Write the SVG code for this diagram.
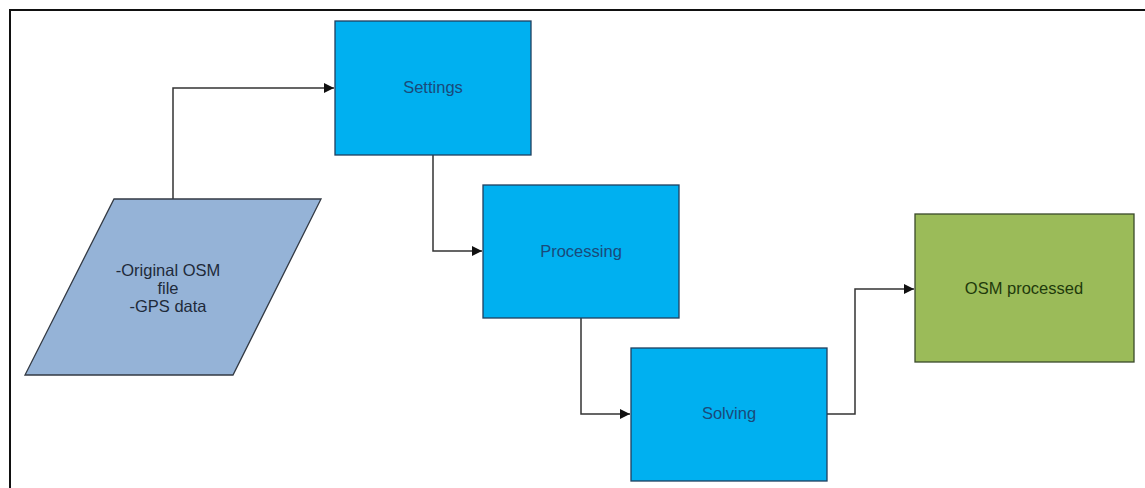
<svg xmlns="http://www.w3.org/2000/svg" width="1145" height="488" viewBox="0 0 1145 488">
  <defs>
    <style>
      .frame { fill: #ffffff; stroke: #111111; stroke-width: 2; }
      .step { fill: #00b0f0; stroke: #1f3f5f; stroke-width: 1.3; }
      .input { fill: #95b3d7; stroke: #333a44; stroke-width: 1.3; }
      .result { fill: #9bbb59; stroke: #3a4a2a; stroke-width: 1.3; }
      .label { font-family: "Liberation Sans", Arial, sans-serif; font-size: 16.5px; text-anchor: middle; }
      .step-text { fill: #1a4a7a; }
      .input-text { fill: #1e2a3a; }
      .result-text { fill: #1f3a0c; }
      .link { fill: none; stroke: #333333; stroke-width: 1.5; }
    </style>
    <marker id="arrow" viewBox="0 0 10 10" refX="10" refY="5" markerWidth="10" markerHeight="10" markerUnits="userSpaceOnUse" orient="auto">
      <path d="M0,0 L10,5 L0,10 z" fill="#111111"/>
    </marker>
  </defs>

  <!-- outer frame -->
  <rect class="frame" x="10" y="10" width="1145" height="488"/>

  <g id="connectors">
    <polyline class="link" points="173,199 173,88 334,88" marker-end="url(#arrow)"/>
    <polyline class="link" points="433,155 433,251 482,251" marker-end="url(#arrow)"/>
    <polyline class="link" points="581,318 581,414 630,414" marker-end="url(#arrow)"/>
    <polyline class="link" points="827,414 855,414 855,289 914,289" marker-end="url(#arrow)"/>
  </g>

  <g id="input-data">
    <polygon class="input" points="114,199 321,199 233,375 25,375"/>
    <text class="label input-text" x="168" y="276">-Original OSM</text>
    <text class="label input-text" x="168" y="294">file</text>
    <text class="label input-text" x="168" y="312">-GPS data</text>
  </g>

  <g id="settings">
    <rect class="step" x="335" y="21" width="196" height="134"/>
    <text class="label step-text" x="433" y="93">Settings</text>
  </g>

  <g id="processing">
    <rect class="step" x="483" y="185" width="196" height="133"/>
    <text class="label step-text" x="581" y="257">Processing</text>
  </g>

  <g id="solving">
    <rect class="step" x="631" y="348" width="196" height="133"/>
    <text class="label step-text" x="729" y="419">Solving</text>
  </g>

  <g id="osm-processed">
    <rect class="result" x="915" y="214" width="219" height="148"/>
    <text class="label result-text" x="1024" y="294">OSM processed</text>
  </g>
</svg>
